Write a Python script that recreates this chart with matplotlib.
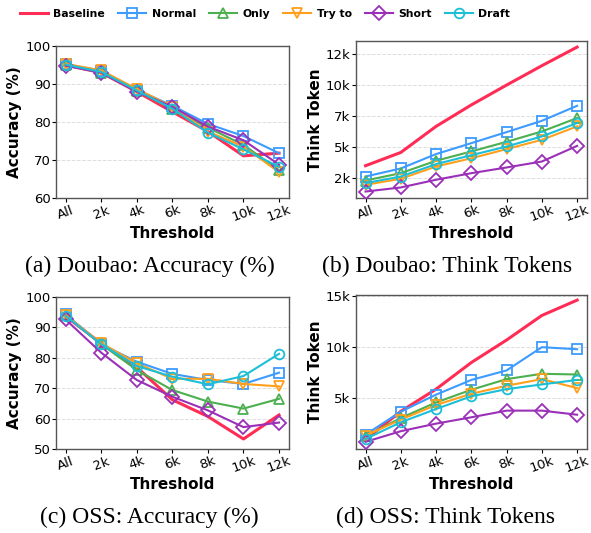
import matplotlib.pyplot as plt
from matplotlib.ticker import FuncFormatter

thresholds = ["All", "2k", "4k", "6k", "8k", "10k", "12k"]
methods = ["Baseline", "Normal", "Only", "Try to", "Short", "Draft"]

# Doubao accuracy (%)
doubao_acc = {
    "Baseline": [95.0, 93.0, 88.0, 82.7, 77.5, 71.1, 71.8],
    "Normal": [95.2, 93.5, 88.5, 84.3, 79.5, 76.3, 71.8],
    "Only": [95.0, 93.0, 88.2, 83.5, 78.5, 74.0, 67.3],
    "Try to": [95.3, 93.6, 88.7, 84.0, 77.5, 73.5, 66.8],
    "Short": [94.8, 93.0, 88.0, 84.0, 78.8, 75.2, 68.8],
    "Draft": [95.1, 93.2, 88.3, 83.5, 77.2, 72.8, 68.2],
}
# Doubao think tokens
doubao_tok = {
    "Baseline": [3500, 4570, 6670, 8400, 10000, 11560, 13060],
    "Normal": [2630, 3280, 4440, 5320, 6210, 7120, 8330],
    "Only": [2310, 2900, 3900, 4650, 5430, 6260, 7340],
    "Try to": [1960, 2450, 3440, 4100, 4840, 5590, 6670],
    "Short": [1420, 1750, 2370, 2900, 3360, 3840, 5100],
    "Draft": [2100, 2630, 3630, 4350, 5050, 5860, 6940],
}
# OSS accuracy (%)
oss_acc = {
    "Baseline": [93.7, 84.7, 76.9, 66.2, 60.7, 53.3, 61.2],
    "Normal": [94.3, 84.5, 78.7, 74.7, 72.7, 71.4, 75.1],
    "Only": [94.0, 84.5, 76.0, 69.4, 65.6, 63.3, 66.5],
    "Try to": [94.0, 84.8, 78.2, 73.1, 73.1, 71.4, 70.6],
    "Short": [92.6, 81.7, 72.7, 67.2, 62.7, 57.2, 58.7],
    "Draft": [93.8, 84.5, 77.3, 73.8, 71.3, 74.0, 81.3],
}
# OSS think tokens
oss_tok = {
    "Baseline": [970, 3730, 5900, 8500, 10700, 13100, 14600],
    "Normal": [1460, 3700, 5360, 6800, 7730, 10000, 9800],
    "Only": [1300, 3080, 4600, 5840, 6880, 7400, 7330],
    "Try to": [1360, 2920, 4350, 5450, 6230, 6880, 6000],
    "Short": [750, 1790, 2530, 3150, 3800, 3800, 3400],
    "Draft": [1030, 2660, 3960, 5200, 5900, 6360, 6800],
}

colors = {"Baseline": "#ff2d55", "Normal": "#3d9bff", "Only": "#4caf50",
          "Try to": "#ff9f1c", "Short": "#9b30b8", "Draft": "#1cbfd6"}
markers = {"Baseline": None, "Normal": "s", "Only": "^", "Try to": "v",
           "Short": "D", "Draft": "o"}

W, H = 591, 533
fig = plt.figure(figsize=(W / 100, H / 100), dpi=100)


def box(l, t, r, b):
    return [l / W, 1 - b / H, (r - l) / W, (b - t) / H]


panels = [
    (box(56, 46, 289, 198), doubao_acc, "Accuracy (%)", "(a) Doubao: Accuracy (%)", 150, 266),
    (box(356, 41, 587, 198), doubao_tok, "Think Token", "(b) Doubao: Think Tokens", 447, 266),
    (box(56, 297, 289, 449), oss_acc, "Accuracy (%)", "(c) OSS: Accuracy (%)", 149, 517),
    (box(356, 295, 587, 449), oss_tok, "Think Token", "(d) OSS: Think Tokens", 445, 517),
]

x = list(range(len(thresholds)))
handles = []
for idx, (rect, data, ylab, cap, cap_x, cap_y) in enumerate(panels):
    ax = fig.add_axes(rect)
    for m in methods:
        lw = 2.2 if m == "Baseline" else 1.5
        h, = ax.plot(x, data[m], color=colors[m], linewidth=lw, marker=markers[m],
                     markersize=7, markerfacecolor="none", markeredgewidth=1.3,
                     label=m, zorder=3 if m != "Baseline" else 2)
        if idx == 0:
            handles.append(h)
    ax.set_xticks(x)
    ax.set_xticklabels(thresholds, rotation=20)
    ax.set_xlim(-0.27, 6.28)
    ax.set_xlabel("Threshold", fontsize=11, fontweight="bold", labelpad=1)
    ax.set_ylabel(ylab, fontsize=11, fontweight="bold", labelpad=2)
    ax.tick_params(labelsize=9.5, length=3, pad=1)
    ax.grid(axis="y", linestyle="--", color="#dddddd", linewidth=0.7)
    for s in ax.spines.values():
        s.set_color("#555555")
        s.set_linewidth(1.0)
    if idx == 0:
        ax.set_ylim(60, 100)
        ax.set_yticks([60, 70, 80, 90, 100])
    elif idx == 2:
        ax.set_ylim(50, 100)
        ax.set_yticks([50, 60, 70, 80, 90, 100])
    elif idx == 1:
        ax.set_ylim(900, 13550)
        ax.set_yticks([2500, 5000, 7500, 10000, 12500])
        ax.yaxis.set_major_formatter(FuncFormatter(lambda v, p: f"{int(v // 1000)}k"))
    else:
        ax.set_ylim(50, 15100)
        ax.set_yticks([5000, 10000, 15000])
        ax.yaxis.set_major_formatter(FuncFormatter(lambda v, p: f"{int(v // 1000)}k"))
    fig.text(cap_x / W, 1 - cap_y / H, cap, ha="center", va="center",
             fontsize=17, family="Liberation Serif")

fig.legend(handles=handles, loc="center", bbox_to_anchor=(265 / W, 1 - 14 / H),
           ncol=6, frameon=False, prop={"weight": "bold", "size": 7.8},
           handlelength=2.6, columnspacing=1.2, handletextpad=0.5, borderaxespad=0)

fig.savefig("out.png", dpi=100)
